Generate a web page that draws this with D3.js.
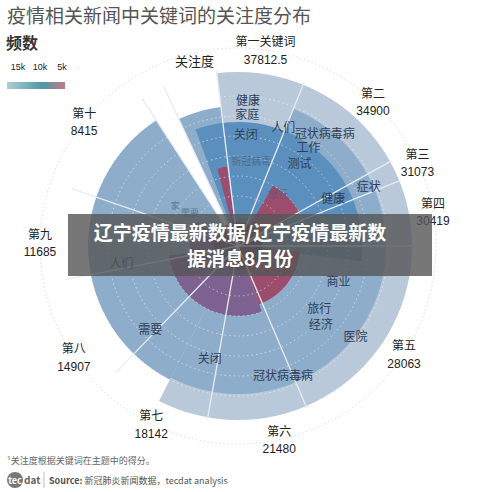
<!DOCTYPE html>
<html><head><meta charset="utf-8">
<script src="https://cdn.jsdelivr.net/npm/d3@7/dist/d3.min.js"></script>
<style>body{margin:0;background:#fff}svg{font-family:"Noto Sans CJK SC","Liberation Sans",sans-serif}</style>
</head><body><svg id="c" width="500" height="492"></svg>
<script>
// ---- data ----
const sectorNames = ["第一关键词","第二","第三","第四","第五","第六","第七","第八","第九","第十"];
const sectorValues = ["37812.5","34900","31073","30419","28063","21480","18142","14907","11685","8415"];
const sectorLabelAngles = [8,43,65,80,123,168,206,236,271,309];
// ring segments: [startDeg, endDeg, outer value]
const outerRing = [[-7,207,174]];
const midRing = [[207,327,150],[-25,-7,140],[22,207,148]];
const darkRing = [[-20,97,124]];
const redParts = [[95,160,62],[30,62,70],[-15,-8,80]];
const purpleParts = [[160,262,70],[262,300,48]];
const coreParts = [[-180,180,24]];
const dividerAngles = [-33,-25,-7,22,61,68,90,157,190,224,259,289];
const keywords = [
 ["健康",4,145,12],["家庭",4,131,12],["关闭",4,111,12],["人们",21,126,12],["冠状病毒病",38,141,12],
 ["工作",36,120,12],["测试",37,102,12],["新冠病毒",9,85,10],["症状",66,143,12],["健康",64,106,12],
 ["旅行",38,65,10],["商业",110,107,12],["旅行",128,103,12],["经济",134,115,12],["医院",128,149,12],
 ["冠状病毒病",161,138,12],["关闭",194,117,12],["需要",226,122,12],["人们",261,118,12],
 ["家",302,74,9],["需要",304,58,9]
];
const legendTicks = ["15k","10k","5k"];
// ---- drawing ----
const svg = d3.select("#c");
const cx = 238, cy = 246;
const r = d3.scaleLinear().domain([0,174]).range([0,174]);
const g = svg.append("g").attr("transform",`translate(${cx},${cy})`);
const rad = d => d*Math.PI/180;
const arc = d3.arc().innerRadius(0).outerRadius(d=>r(d[2])).startAngle(d=>rad(d[0])).endAngle(d=>rad(d[1]));
g.append("circle").attr("r",r(198)).attr("fill","none").attr("stroke","#d6dde5").attr("stroke-dasharray","1.5,2.5");
function layer(data, color){ g.selectAll(null).data(data).enter().append("path").attr("d",arc).attr("fill",color); }
layer(outerRing,"#b9c9da");
layer(midRing,"#8eadcb");
layer(darkRing,"#5b8fbe");
layer(purpleParts,"#7d6190");
layer(redParts,"#9c4d6e");
layer(coreParts,"#5c3a56");
[30,50,70,90,110,130,150].forEach(v=>g.append("circle").attr("r",r(v)).attr("fill","none")
  .attr("stroke","#fff").attr("stroke-opacity",0.55).attr("stroke-dasharray","1.5,3"));
g.selectAll(null).data(dividerAngles).enter().append("line")
 .attr("x2",d=>r(176)*Math.sin(rad(d))).attr("y2",d=>-r(176)*Math.cos(rad(d)))
 .attr("stroke","#e6ecf2").attr("stroke-width",1.3);
g.selectAll(null).data(keywords).enter().append("text")
 .attr("x",d=>r(d[2])*Math.sin(rad(d[1]))).attr("y",d=>-r(d[2])*Math.cos(rad(d[1])))
 .attr("text-anchor","middle").attr("dominant-baseline","middle")
 .attr("font-size",d=>d[3]).attr("fill",d=>d[3]<11?"#4a5e78":"#2f3f55").attr("fill-opacity",d=>d[3]<11?0.7:1).text(d=>d[0]);
sectorNames.forEach((n,i)=>{
  const a = rad(sectorLabelAngles[i]), rr = 198;
  const x = rr*Math.sin(a), y = -rr*Math.cos(a);
  const t = g.append("text").attr("x",x).attr("y",y).attr("text-anchor","middle").attr("font-size",12).attr("fill","#222");
  t.append("tspan").attr("x",x).attr("dy","-0.3em").text(n);
  t.append("tspan").attr("x",x).attr("dy","1.45em").attr("font-family","Liberation Sans").text(sectorValues[i]);
});
svg.append("text").attr("x",175).attr("y",66).attr("font-size",13).attr("fill","#222").text("关注度");
svg.append("text").attr("x",7).attr("y",23).attr("font-size",19).attr("fill","#555").text("疫情相关新闻中关键词的关注度分布");
svg.append("text").attr("x",6).attr("y",49).attr("font-size",16).attr("font-weight","bold").attr("fill","#333").text("频数");
const lx = d3.scalePoint().domain(legendTicks).range([18,62]);
svg.selectAll(null).data(legendTicks).enter().append("text").attr("x",d=>lx(d)).attr("y",70)
 .attr("text-anchor","middle").attr("font-size",9).attr("font-family","Liberation Sans").attr("fill","#222").text(d=>d);
const grad = svg.append("defs").append("linearGradient").attr("id","lg");
[["0%","#b2ccd3"],["60%","#4c9aa8"],["100%","#c47a88"]].forEach(s=>grad.append("stop").attr("offset",s[0]).attr("stop-color",s[1]));
svg.append("rect").attr("x",7).attr("y",82).attr("width",58).attr("height",7).attr("fill","url(#lg)");
svg.append("rect").attr("x",68).attr("y",214).attr("width",364).attr("height",62).attr("fill","#555").attr("opacity",0.8);
svg.append("text").attr("x",240).attr("y",240).attr("text-anchor","middle").attr("font-size",19).attr("font-weight","bold").attr("fill","#fff").text("辽宁疫情最新数据/辽宁疫情最新数");
svg.append("text").attr("x",240).attr("y",266).attr("text-anchor","middle").attr("font-size",19).attr("font-weight","bold").attr("fill","#fff").text("据消息8月份");
svg.append("text").attr("x",7).attr("y",464).attr("font-size",9).attr("fill","#666").text("¹关注度根据关键词在主题中的得分。");
svg.append("circle").attr("cx",15).attr("cy",480).attr("r",8).attr("fill","#777");
svg.append("text").attr("x",15).attr("y",483.5).attr("text-anchor","middle").attr("font-size",9).attr("fill","#fff").attr("font-weight","bold").text("tec");
svg.append("text").attr("x",24).attr("y",484).attr("font-size",10).attr("font-weight","bold").attr("fill","#666").text("dat");
svg.append("line").attr("x1",44).attr("x2",44).attr("y1",472).attr("y2",488).attr("stroke","#bbb");
const s = svg.append("text").attr("x",49).attr("y",484).attr("font-size",9).attr("fill","#555");
s.append("tspan").attr("font-weight","bold").text("Source: ");
s.append("tspan").text("新冠肺炎新闻数据，tecdat analysis");
</script></body></html>
